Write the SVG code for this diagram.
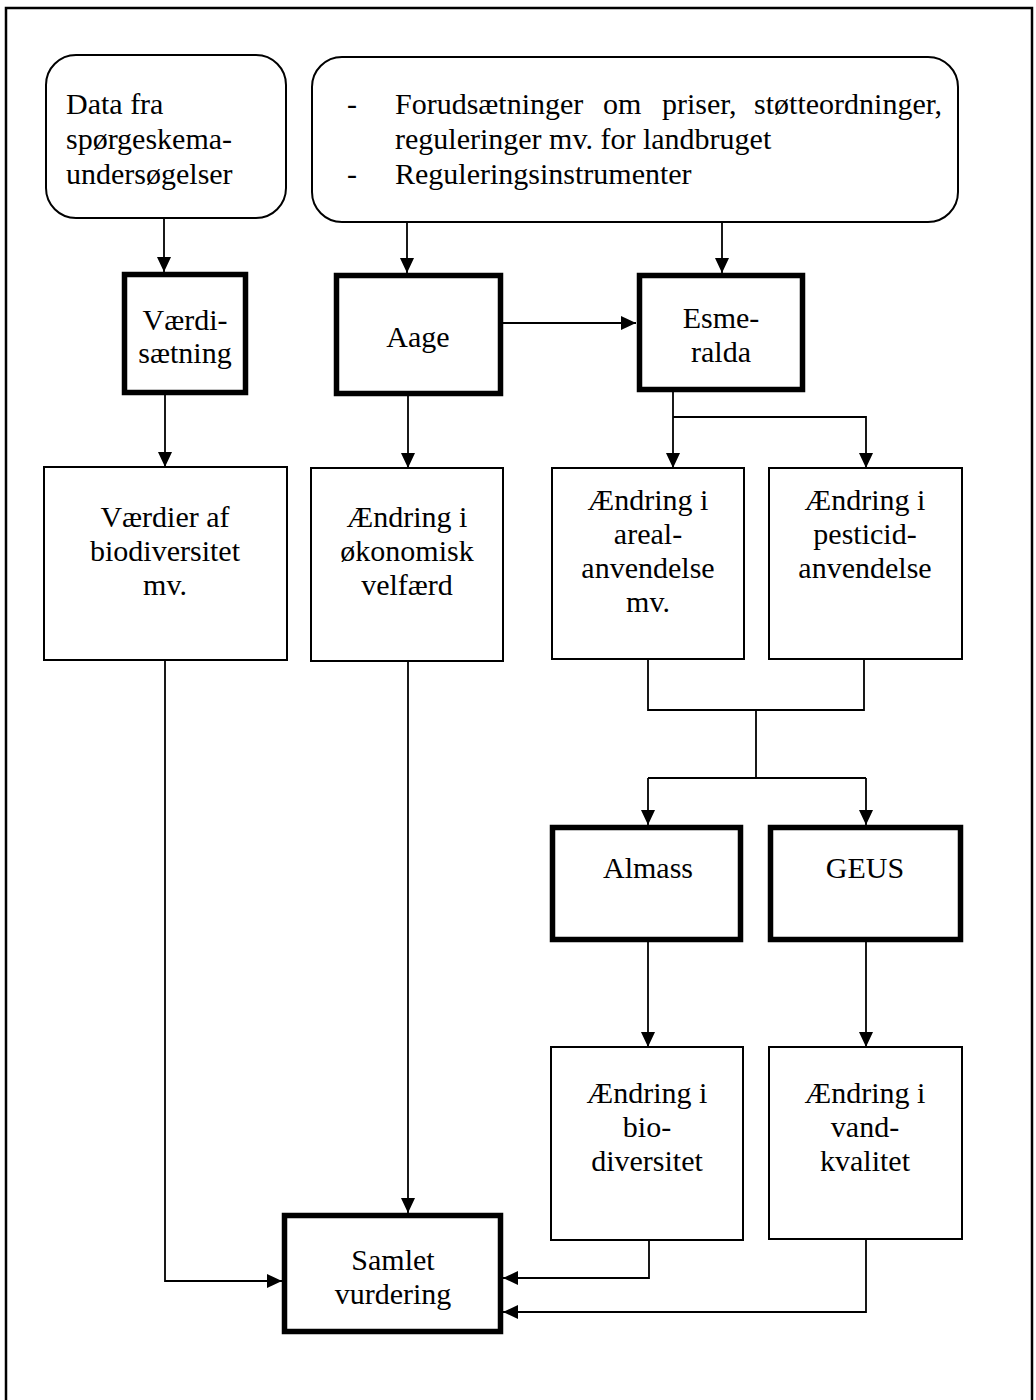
<svg xmlns="http://www.w3.org/2000/svg" width="1036" height="1400" viewBox="0 0 1036 1400">
<style>
.t{font-family:"Liberation Serif","Times New Roman",serif;font-size:30px;fill:#000}
.c{text-anchor:middle}
.thin{fill:#fff;stroke:#000;stroke-width:2}
.thick{fill:#fff;stroke:#000;stroke-width:5.5}
.rnd{fill:#fff;stroke:#000;stroke-width:2}
.con{fill:none;stroke:#000;stroke-width:1.8}
</style>
<defs>
<marker id="ah" markerUnits="userSpaceOnUse" markerWidth="15" markerHeight="14" refX="15" refY="7" orient="auto">
<path d="M0,0 L15,7 L0,14 z" fill="#000"/>
</marker>
</defs>
<rect width="1036" height="1400" fill="#fff"/>
<rect x="6" y="8" width="1026" height="1410" fill="none" stroke="#000" stroke-width="2.5"/>

<g id="connectors">
<path class="con" d="M164,218 V272" marker-end="url(#ah)"/>
<path class="con" d="M407,222 V273" marker-end="url(#ah)"/>
<path class="con" d="M722,222 V273" marker-end="url(#ah)"/>
<path class="con" d="M503,323 H636" marker-end="url(#ah)"/>
<path class="con" d="M165,395 V467" marker-end="url(#ah)"/>
<path class="con" d="M408,396 V468" marker-end="url(#ah)"/>
<path class="con" d="M673,392 V468" marker-end="url(#ah)"/>
<path class="con" d="M673,417 H866 V468" marker-end="url(#ah)"/>
<path class="con" d="M648,659 V710 H864 V659"/>
<path class="con" d="M756,710 V778"/>
<path class="con" d="M648,778 H866"/>
<path class="con" d="M648,778 V825" marker-end="url(#ah)"/>
<path class="con" d="M866,778 V825" marker-end="url(#ah)"/>
<path class="con" d="M648,942 V1047" marker-end="url(#ah)"/>
<path class="con" d="M866,942 V1047" marker-end="url(#ah)"/>
<path class="con" d="M165,660 V1281 H282" marker-end="url(#ah)"/>
<path class="con" d="M408,661 V1213" marker-end="url(#ah)"/>
<path class="con" d="M649,1240 V1278 H503" marker-end="url(#ah)"/>
<path class="con" d="M866,1239 V1312 H503" marker-end="url(#ah)"/>
</g>

<g id="data">
<rect class="rnd" x="46" y="55" width="240" height="163" rx="30"/>
<text class="t" x="66" y="114">Data fra</text>
<text class="t" x="66" y="149">spørgeskema-</text>
<text class="t" x="66" y="184">undersøgelser</text>
</g>

<g id="forudsaetninger">
<rect class="rnd" x="312" y="57" width="646" height="165" rx="30"/>
<text class="t" x="347" y="114">-</text>
<text class="t" x="395" y="114">Forudsætninger</text>
<text class="t" x="603" y="114">om</text>
<text class="t" x="662" y="114">priser,</text>
<text class="t" x="942" y="114" text-anchor="end">støtteordninger,</text>
<text class="t" x="395" y="149">reguleringer mv. for landbruget</text>
<text class="t" x="347" y="184">-</text>
<text class="t" x="395" y="184">Reguleringsinstrumenter</text>
</g>

<g id="vaerdisaetning">
<rect class="thick" x="124.5" y="274.5" width="121" height="118"/>
<text class="t c" x="185" y="330">Værdi-</text>
<text class="t c" x="185" y="363">sætning</text>
</g>

<g id="aage">
<rect class="thick" x="336.5" y="275.5" width="164" height="118"/>
<text class="t c" x="418" y="347">Aage</text>
</g>

<g id="esmeralda">
<rect class="thick" x="639.5" y="275.5" width="163" height="114"/>
<text class="t c" x="721" y="328">Esme-</text>
<text class="t c" x="721" y="362">ralda</text>
</g>

<g id="vaerdier">
<rect class="thin" x="44" y="467" width="243" height="193"/>
<text class="t c" x="165" y="527">Værdier af</text>
<text class="t c" x="165" y="561">biodiversitet</text>
<text class="t c" x="165" y="595">mv.</text>
</g>

<g id="oekonomisk">
<rect class="thin" x="311" y="468" width="192" height="193"/>
<text class="t c" x="407" y="527">Ændring i</text>
<text class="t c" x="407" y="561">økonomisk</text>
<text class="t c" x="407" y="595">velfærd</text>
</g>

<g id="areal">
<rect class="thin" x="552" y="468" width="192" height="191"/>
<text class="t c" x="648" y="510">Ændring i</text>
<text class="t c" x="648" y="544">areal-</text>
<text class="t c" x="648" y="578">anvendelse</text>
<text class="t c" x="648" y="612">mv.</text>
</g>

<g id="pesticid">
<rect class="thin" x="769" y="468" width="193" height="191"/>
<text class="t c" x="865" y="510">Ændring i</text>
<text class="t c" x="865" y="544">pesticid-</text>
<text class="t c" x="865" y="578">anvendelse</text>
</g>

<g id="almass">
<rect class="thick" x="552.5" y="827.5" width="188" height="112"/>
<text class="t c" x="648" y="878">Almass</text>
</g>

<g id="geus">
<rect class="thick" x="770.5" y="827.5" width="190" height="112"/>
<text class="t c" x="865" y="878">GEUS</text>
</g>

<g id="biodiversitet">
<rect class="thin" x="551" y="1047" width="192" height="193"/>
<text class="t c" x="647" y="1103">Ændring i</text>
<text class="t c" x="647" y="1137">bio-</text>
<text class="t c" x="647" y="1171">diversitet</text>
</g>

<g id="vandkvalitet">
<rect class="thin" x="769" y="1047" width="193" height="192"/>
<text class="t c" x="865" y="1103">Ændring i</text>
<text class="t c" x="865" y="1137">vand-</text>
<text class="t c" x="865" y="1171">kvalitet</text>
</g>

<g id="samlet">
<rect class="thick" x="284.5" y="1215.5" width="216" height="116"/>
<text class="t c" x="393" y="1270">Samlet</text>
<text class="t c" x="393" y="1304">vurdering</text>
</g>
</svg>
